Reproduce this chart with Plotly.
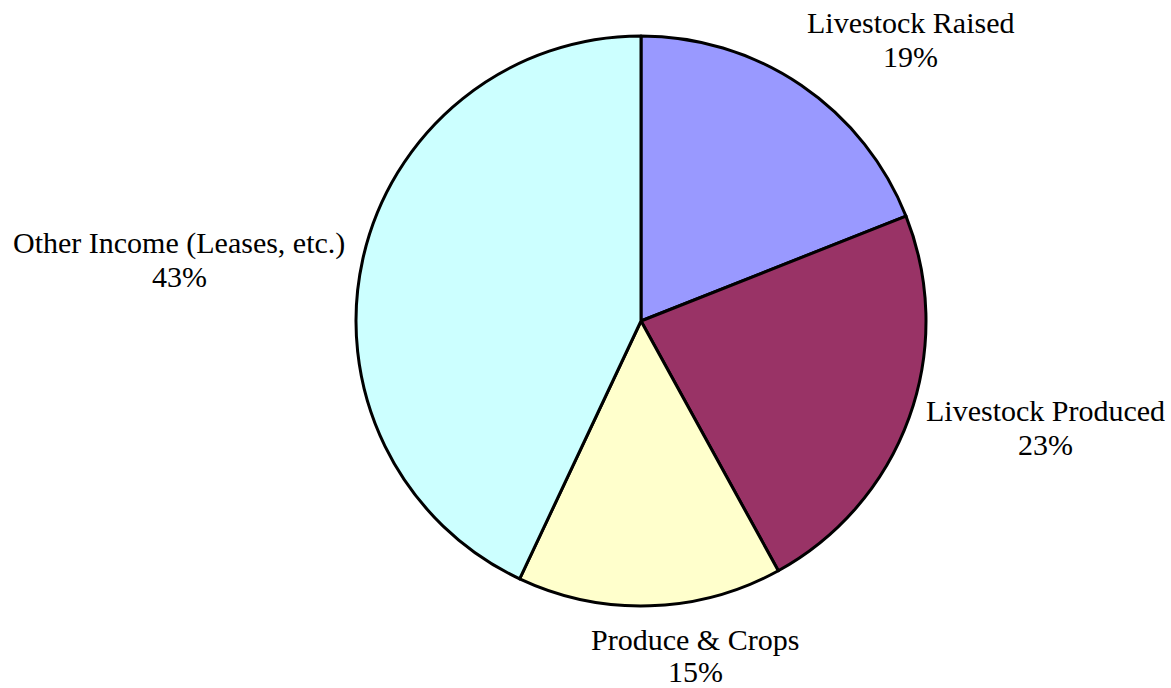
import plotly.graph_objects as go

categories = ["Livestock Raised", "Livestock Produced", "Produce & Crops", "Other Income (Leases, etc.)"]
values = [19, 23, 15, 43]
colors = ["#9999FF", "#993366", "#FFFFCC", "#CCFFFF"]

W, H = 1171, 688
cx, cy, r = 641, 321, 285

fig = go.Figure(go.Pie(
    labels=categories, values=values, sort=False, direction="clockwise", rotation=0,
    marker=dict(colors=colors, line=dict(color="black", width=3)),
    textinfo="none", hoverinfo="label+percent", showlegend=False,
    domain=dict(x=[(cx - r) / W, (cx + r) / W], y=[1 - (cy + r) / H, 1 - (cy - r) / H]),
))

# label placement (pixel centres of the two text lines)
label_pos = {
    "Livestock Raised": (911, 22, 56),
    "Livestock Produced": (1045, 411, 444),
    "Produce & Crops": (695, 639, 671),
    "Other Income (Leases, etc.)": (179, 243, 276),
}
total = sum(values)
font = dict(family="Liberation Serif, Times New Roman, serif", size=30, color="black")
for cat, v in zip(categories, values):
    px, y1, y2 = label_pos[cat]
    fig.add_annotation(x=px / W, y=1 - y1 / H, xref="paper", yref="paper", text=cat,
                       showarrow=False, xanchor="center", yanchor="middle", font=font)
    fig.add_annotation(x=px / W, y=1 - y2 / H, xref="paper", yref="paper",
                       text=f"{round(100 * v / total)}%",
                       showarrow=False, xanchor="center", yanchor="middle", font=font)

fig.update_layout(width=W, height=H, margin=dict(l=0, r=0, t=0, b=0),
                  paper_bgcolor="white", plot_bgcolor="white")
fig.write_html("out.html", config={"displayModeBar": False},
               post_script="document.body.style.margin='0';document.body.style.overflow='hidden';")
